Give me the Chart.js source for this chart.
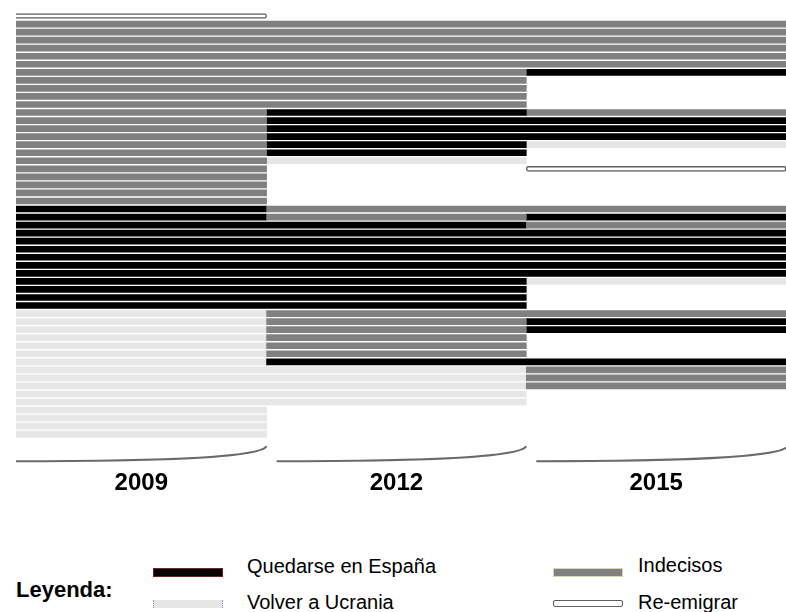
<!DOCTYPE html>
<html>
<head>
<meta charset="utf-8">
<script src="https://cdn.jsdelivr.net/npm/chart.js@4"></script>
<style>
  body { margin: 0; background: #fff; font-family: "Liberation Sans", Arial, sans-serif; }
  #wrap { position: relative; width: 786px; height: 612px; overflow: hidden; }
  #chart { position: absolute; left: 0; top: 0; }
  .lg { position: absolute; font-size: 20px; color: #000; line-height: 1; white-space: pre; }
  .sw { position: absolute; width: 70px; box-sizing: border-box; }
</style>
</head>
<body>
<div id="wrap">
  <canvas id="chart" width="786" height="529"></canvas>

  <div class="lg" style="left:16px; top:579px; font-size:22px; font-weight:bold;">Leyenda:</div>

  <div class="sw" style="left:153px; top:568px; height:9px; background:#000; border:1px solid #7a1f1f;"></div>
  <div class="lg" style="left:247px; top:556px;">Quedarse en España</div>

  <div class="sw" style="left:153px; top:600px; height:8px; background:#e6e6e6; border-left:1px dotted #8c8cf0; border-right:1px dotted #8c8cf0;"></div>
  <div class="lg" style="left:247px; top:592px;">Volver a Ucrania</div>

  <div class="sw" style="left:553px; top:568px; height:9px; background:#808080; border:1px solid #d8d8a0;"></div>
  <div class="lg" style="left:638px; top:555px;">Indecisos</div>

  <div class="sw" style="left:553px; top:600px; height:7px; background:#fff; border:1.5px solid #606060; border-radius:2px;"></div>
  <div class="lg" style="left:638px; top:592px;">Re-emigrar</div>
</div>

<script>
// one letter per respondent (row), top to bottom
// Q = Quedarse en España, V = Volver a Ucrania, I = Indecisos, R = Re-emigrar, - = sin dato
const years = ['2009', '2012', '2015'];
const answers2009 = 'RIIIIIIIII IIIIIIIIII IIIIQQQQQQ QQQQQQQVVV VVVVVVVVVV VVV';
const answers2012 = '-IIIIIIIII IIQQQQQQV- ----IIQQQQ QQQQQQQIII IIIQVVVVV- ---';
const answers2015 = '-IIIIIIQ-- --IQQQV--R ----IQIQQQ QQQV---IQQ ---QIII--- ---';

const colors = { Q: '#000000', V: '#e6e6e6', I: '#808080', R: '#ffffff' };
const xStart = 0.035;

const answers = [answers2009, answers2012, answers2015].map(s => s.replace(/ /g, '').split(''));
const nRows = answers[0].length;
const rowIds = answers[0].map((_, i) => String(i + 1));

// merge consecutive equal answers of one row into one bar
const sets = {};
for (let r = 0; r < nRows; r++) {
  const segs = [];
  for (let y = 0; y < years.length; y++) {
    const c = answers[y][r];
    if (c === '-') continue;
    const last = segs[segs.length - 1];
    if (last && last.c === c && last.end === y) last.end = y + 1;
    else segs.push({ c, start: y, end: y + 1 });
  }
  const seen = {};
  segs.forEach(s => {
    seen[s.c] = (seen[s.c] || 0) + 1;
    const key = s.c + seen[s.c];
    if (!sets[key]) {
      sets[key] = {
        label: key,
        data: new Array(nRows).fill(null),
        backgroundColor: colors[s.c],
        borderColor: s.c === 'R' ? '#606060' : colors[s.c],
        borderWidth: s.c === 'R' ? 1.5 : 0,
        borderSkipped: false,
        borderRadius: s.c === 'R' ? 2 : 0,
        barThickness: s.c === 'R' ? 5 : 6,
        grouped: false,
        clip: 0
      };
    }
    sets[key].data[r] = [s.start, s.end];
  });
}

const braces = {
  id: 'braces',
  afterDraw(chart) {
    const ctx = chart.ctx;
    const xs = chart.scales.x;
    const a = chart.chartArea;
    const p1 = xs.getPixelForValue(1), p2 = xs.getPixelForValue(2);
    const spans = [[a.left, p1], [p1 + 10, p2], [p2 + 10, a.right + 2]];
    const yb = a.bottom + 23, yt = a.bottom + 8;
    ctx.save();
    ctx.strokeStyle = '#6a6a6a';
    ctx.lineWidth = 2;
    spans.forEach(([x0, x1]) => {
      const w = x1 - x0;
      ctx.beginPath();
      ctx.moveTo(x0, yb);
      ctx.bezierCurveTo(x0 + w * 0.55, yb, x1 - w * 0.03, yb - 3, x1, yt);
      ctx.stroke();
    });
    ctx.restore();
  }
};

new Chart(document.getElementById('chart'), {
  type: 'bar',
  data: { labels: rowIds, datasets: Object.values(sets) },
  options: {
    indexAxis: 'y',
    responsive: false,
    animation: false,
    devicePixelRatio: 1,
    layout: { padding: { top: 12, left: 16, right: 0, bottom: 0 } },
    plugins: { legend: { display: false }, tooltip: { enabled: false } },
    scales: {
      y: { type: 'category', display: false },
      x: {
        type: 'linear',
        min: xStart,
        max: 3,
        grid: { display: false, drawTicks: false },
        border: { display: false },
        afterBuildTicks: s => {
          s.ticks = years.map((_, i) => ({ value: (Math.max(i, xStart) + i + 1) / 2 }));
        },
        ticks: {
          callback: (v, i) => years[i],
          color: '#000',
          font: { family: '"Liberation Sans", Arial, sans-serif', size: 24, weight: 'bold' },
          padding: 31,
          maxRotation: 0,
          autoSkip: false
        }
      }
    }
  },
  plugins: [braces]
});
</script>
</body>
</html>
